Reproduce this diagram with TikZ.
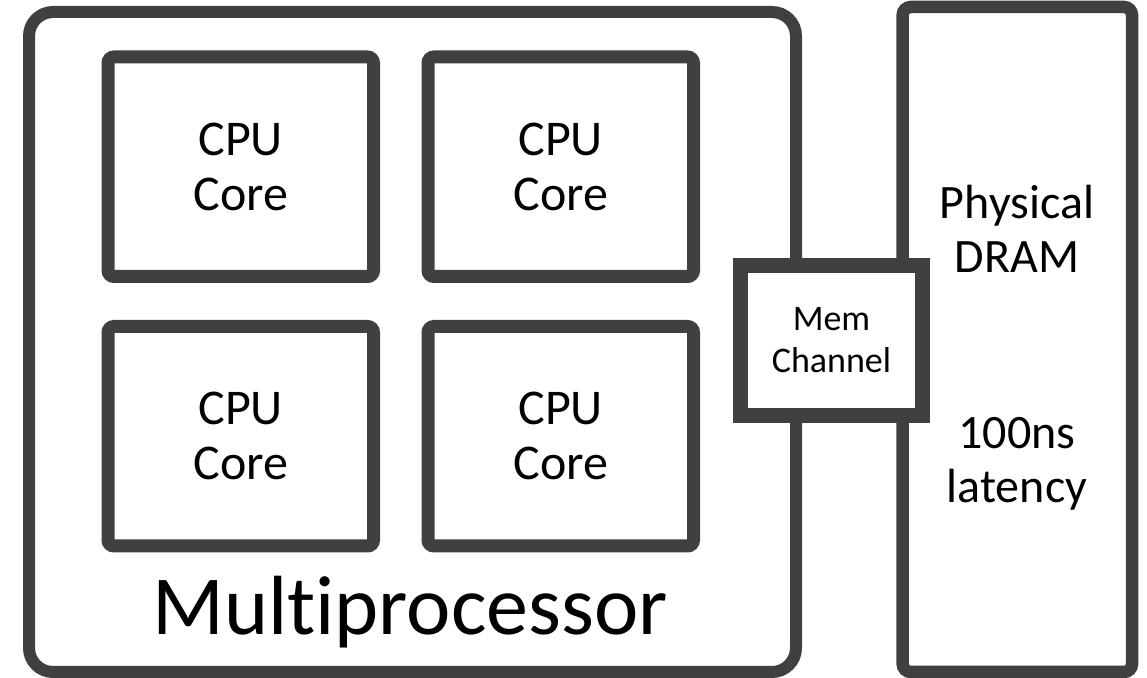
\documentclass[tikz,border=0pt]{standalone}
\usepackage{fontspec}
\setmainfont{Carlito}[Ligatures=NoCommon]
\usetikzlibrary{positioning}
\definecolor{boxgray}{HTML}{404040}
\begin{document}
\begin{tikzpicture}[x=0.5pt, y=-0.5pt]

% Define block styles
\tikzstyle{block} = [rectangle, draw=boxgray, fill=white, inner sep=0pt, outer sep=0pt, text centered, align=center]
\tikzstyle{chip} = [block, line width=6pt, rounded corners=12pt, minimum width=383.5pt, minimum height=330pt]
\tikzstyle{core} = [block, line width=6.5pt, rounded corners=3pt, minimum width=132.75pt, minimum height=109.75pt, font=\fontsize{25}{27.5}\selectfont]
\tikzstyle{dram} = [block, line width=6.25pt, rounded corners=4pt, minimum width=114.65pt, minimum height=332.5pt]
\tikzstyle{channel} = [block, line width=7.5pt, minimum width=91pt, minimum height=75pt, font=\fontsize{18}{21}\selectfont]
\tikzstyle{memtext} = [align=center, inner sep=0pt, font=\fontsize{24}{27}\selectfont]

\useasboundingbox (0,0) rectangle (1147,678);

% Define nodes (multiprocessor and cores)
\node[chip] (multiprocessor) at (412.5,342) {};
\node[core] (coreA) at (240.75,166.75) {CPU\\Core};
\node[core, right=27.25pt of coreA] (coreB) {CPU\\Core};
\node[core, below=25pt of coreA] (coreC) {CPU\\Core};
\node[core, below=25pt of coreB] (coreD) {CPU\\Core};
\node[anchor=base, font=\fontsize{42}{50}\selectfont] (mplabel) at (410,635) {Multiprocessor};

% Define memory nodes
\node[dram] (dram) at (1017.35,339.5) {};
\node[memtext] (dramname) at (1017,229) {Physical\\DRAM};
\node[memtext] (dramlat) at (1017,464) {100ns\\latency};
\node[channel] (memchannel) at (831.5,340.5) {Mem\\Channel};

\end{tikzpicture}
\end{document}
